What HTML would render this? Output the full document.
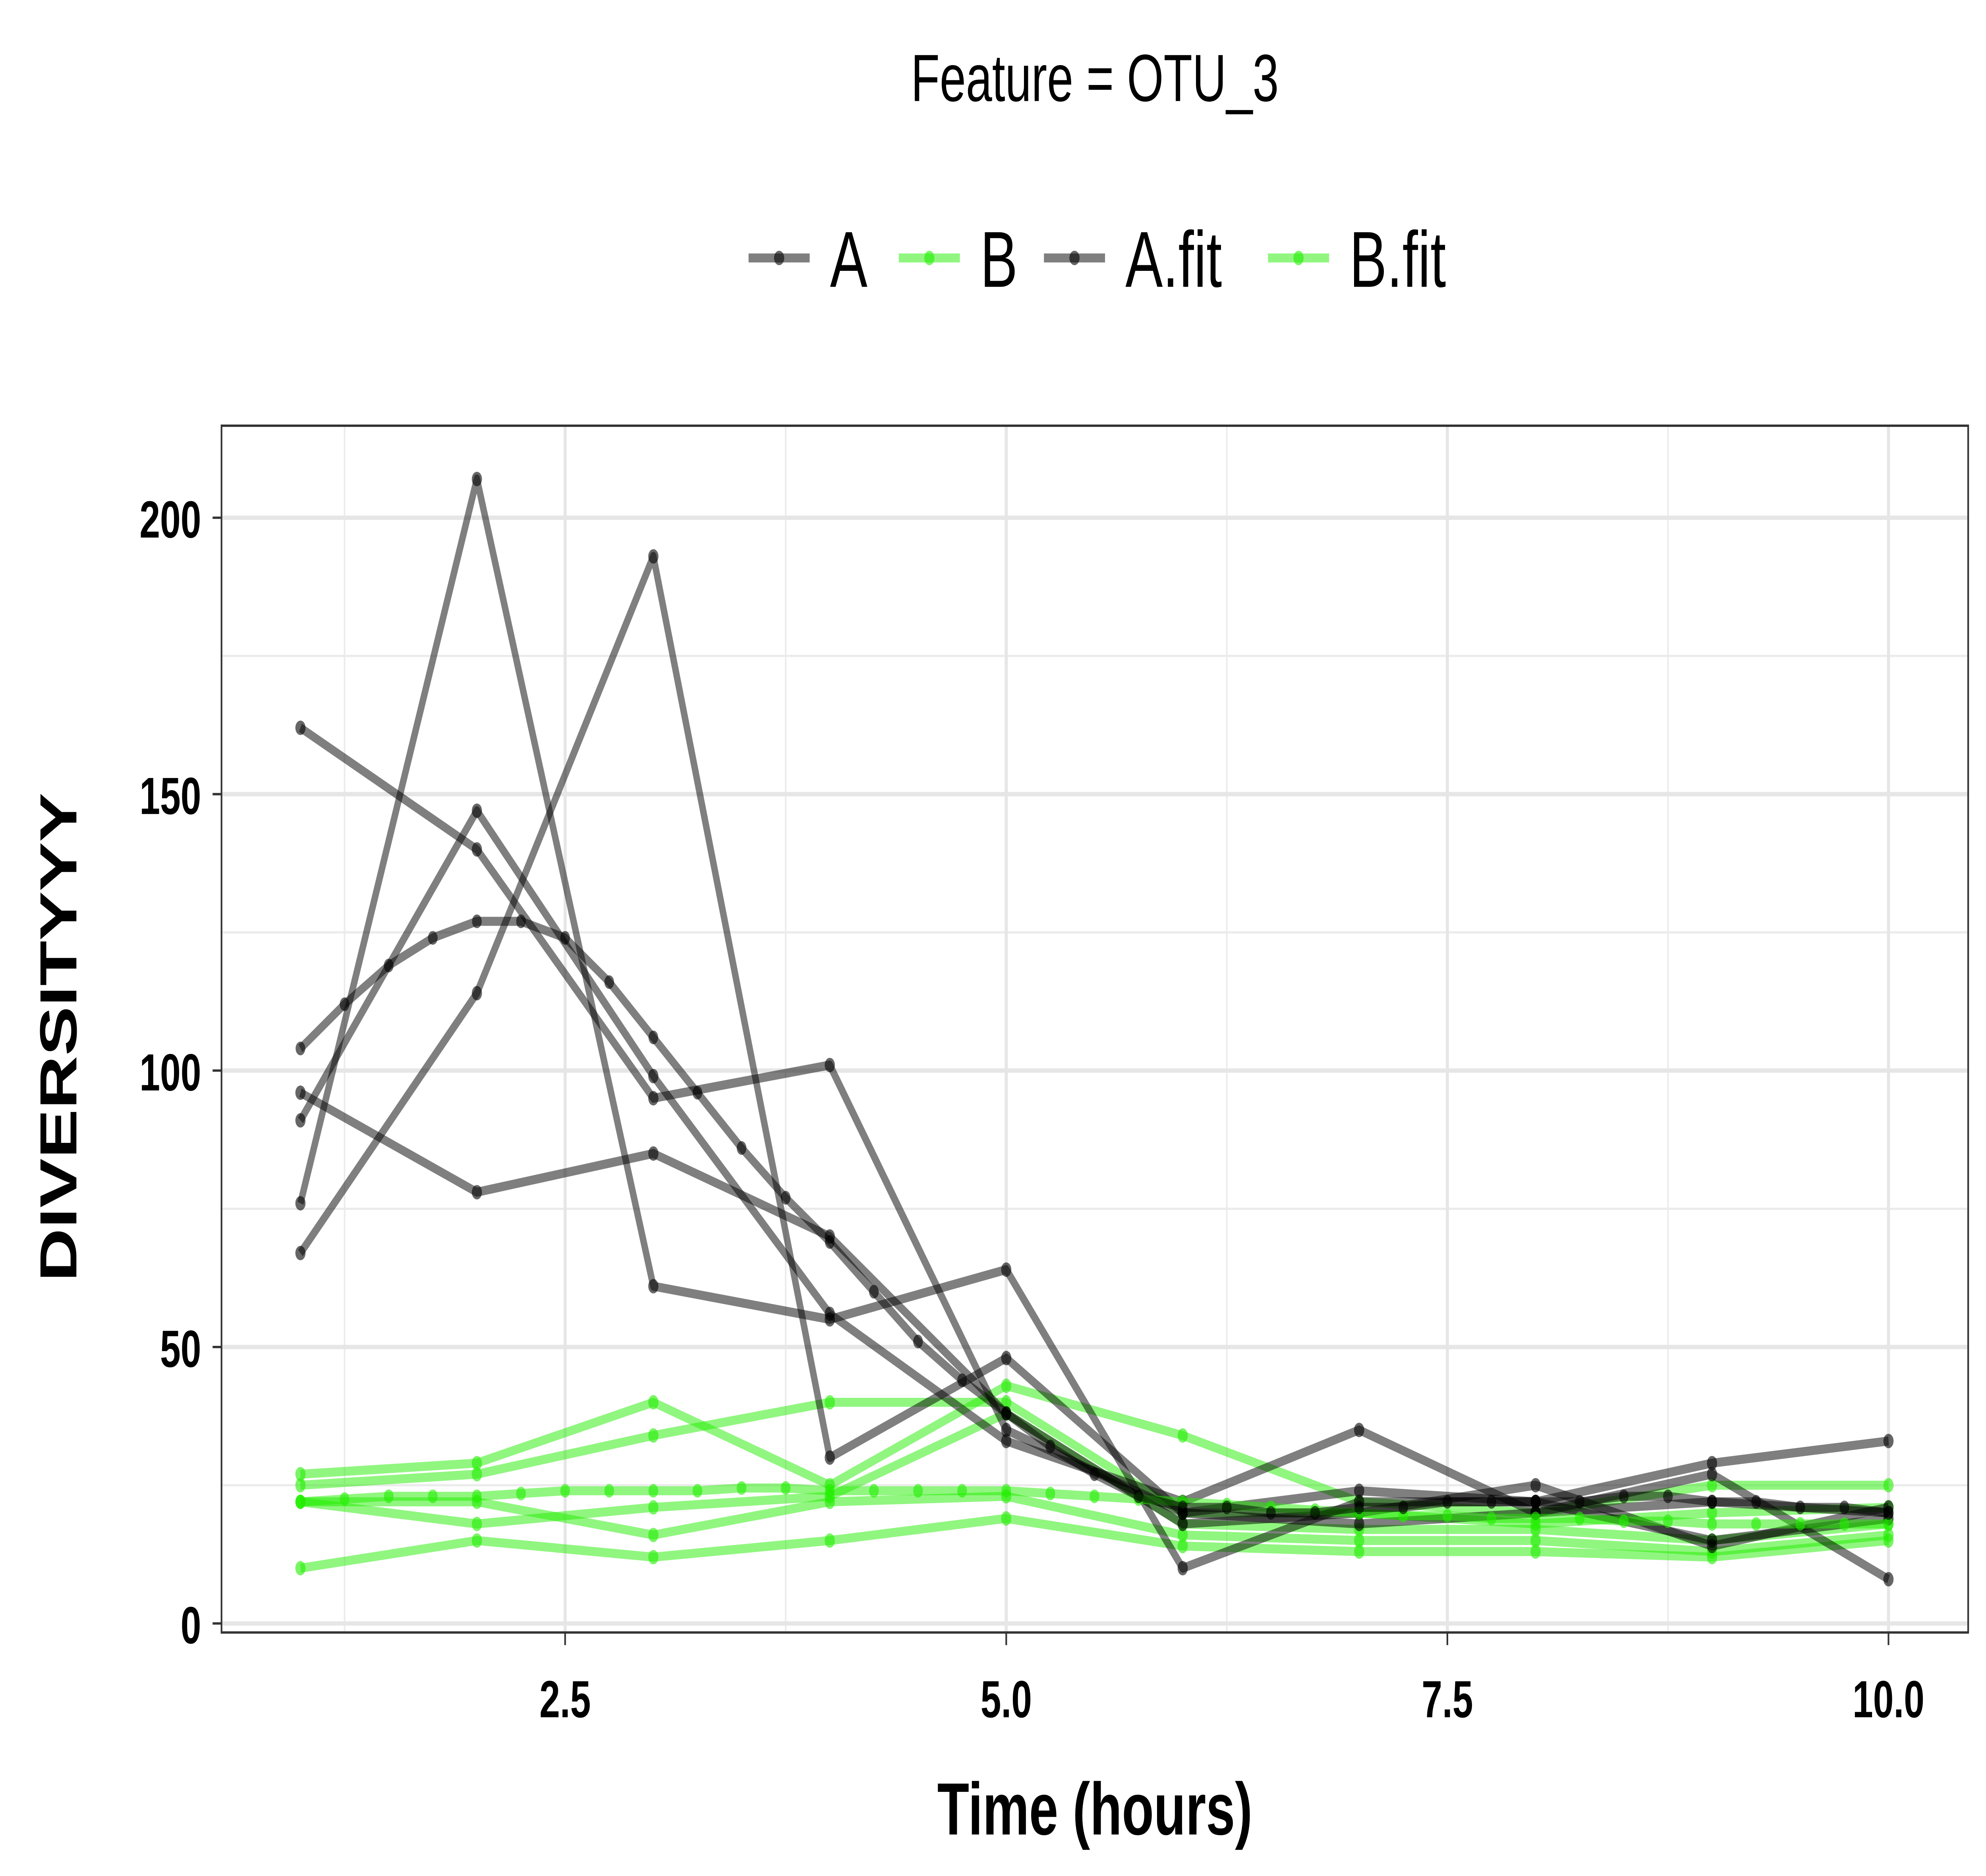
<!DOCTYPE html>
<html><head><meta charset="utf-8"><style>
html,body{margin:0;padding:0;background:#fff;overflow:hidden;width:100vw;height:100vh;}
svg{display:block;width:100vw;height:100vh;}
text{font-family:"Liberation Sans",Arial,sans-serif;}
</style></head><body>
<svg id="chart" viewBox="0 0 1560 1040" preserveAspectRatio="none" xmlns="http://www.w3.org/2000/svg">
<rect x="0" y="0" width="1560" height="1040" fill="#fff"/>
<text x="860" y="56" font-size="37" text-anchor="middle">Feature = OTU_3</text>
<g id="legend"></g>
<g id="grid"></g>
<g id="series"></g>
<rect x="174" y="236" width="1372" height="669" fill="none" stroke="#333" stroke-width="1.3"/>
<g id="axes"></g>
<text x="860" y="1017" font-size="41" font-weight="bold" text-anchor="middle">Time (hours)</text>
<text transform="translate(60,575) rotate(-90)" font-size="41" font-weight="bold" text-anchor="middle">DIVERSITYYY</text>
</svg>
<script>
const times = [1,2,3,4,5,6,7,8,9,10];
const seriesA1 = [162,140,95,101,35,20,24,22,29,33];
const seriesA2 = [96,78,85,70,38,18,20,25,14,21];
const seriesA3 = [91,147,99,56,33,22,35,20,27,8];
const seriesA4 = [76,207,61,55,64,10,22,22,15,19];
const seriesA5 = [67,114,193,30,48,20,18,20,22,20];
const seriesB1 = [27,29,40,25,43,34,22,20,25,25];
const seriesB2 = [25,27,34,40,40,20,20,18,20,21];
const seriesB3 = [22,18,21,23,38,18,17,17,15,18];
const seriesB4 = [22,22,16,22,23,16,15,15,13,16];
const seriesB5 = [10,15,12,15,19,14,13,13,12,15];
const fitTimes = [1,1.25,1.5,1.75,2,2.25,2.5,2.75,3,3.25,3.5,3.75,4,4.25,4.5,4.75,5,5.25,5.5,5.75,6,6.25,6.5,6.75,7,7.25,7.5,7.75,8,8.25,8.5,8.75,9,9.25,9.5,9.75,10];
const fitA = [104,112,119,124,127,127,124,116,106,96,86,77,69,60,51,44,38,32,27,23,21,21,20,20,21,21,22,22,22,22,23,23,22,22,21,21,20];
const fitB = [22,22.5,23,23,23,23.5,24,24,24,24,24.5,24.5,24,24,24,24,24,23.5,23,22.5,22,21.5,21,20.5,20,19.5,19.5,19,19,19,18.5,18.5,18,18,18,18,18];
const xTicks = [2.5,5.0,7.5,10.0];
const xTickLabels = ["2.5","5.0","7.5","10.0"];
const yTicks = [0,50,100,150,200];
const yTickLabels = ["0","50","100","150","200"];

const NS="http://www.w3.org/2000/svg";
const X = v => 236 + (v-1)*138.6;
const Y = v => 900 - v*3.065;
function mk(tag, attrs, parent){const e=document.createElementNS(NS,tag);for(const k in attrs)e.setAttribute(k,attrs[k]);parent.appendChild(e);return e;}

const grid=document.getElementById('grid');
const minorX=[1.25,3.75,6.25,8.75], minorY=[25,75,125,175];
minorX.forEach(v=>{const l=mk('line',{x1:X(v),x2:X(v),y1:236,y2:905,stroke:'#ebebeb','stroke-width':1.2},grid);

});
minorY.forEach(v=>{const l=mk('line',{x1:174,x2:1546,y1:Y(v),y2:Y(v),stroke:'#ebebeb','stroke-width':1.2},grid);

});
xTicks.forEach(v=>{const l=mk('line',{x1:X(v),x2:X(v),y1:236,y2:905,stroke:'#e6e6e6','stroke-width':2.4},grid);

});
yTicks.forEach(v=>{const l=mk('line',{x1:174,x2:1546,y1:Y(v),y2:Y(v),stroke:'#e6e6e6','stroke-width':2.4},grid);

});

const axes=document.getElementById('axes');
xTicks.forEach((v,i)=>{
 const t=mk('line',{x1:X(v),x2:X(v),y1:905,y2:912,stroke:'#333','stroke-width':1.3},axes);
 
 
 const tx=mk('text',{x:X(v),y:952,'font-size':29,'font-weight':'bold','text-anchor':'middle'},axes);
 tx.textContent=xTickLabels[i];
 
 
});
yTicks.forEach((v,i)=>{
 const t=mk('line',{x1:167,x2:174,y1:Y(v),y2:Y(v),stroke:'#333','stroke-width':1.3},axes);
 
 
 const tx=mk('text',{x:158,y:Y(v)+11,'font-size':29,'font-weight':'bold','text-anchor':'end'},axes);
 tx.textContent=yTickLabels[i];
 
 
});

const ser=document.getElementById('series');
function drawLine(xs, ys, color, name, r){
 const g=mk('g',{},ser);
 
 
 const pts=xs.map((x,i)=>X(x)+','+Y(ys[i])).join(' ');
 mk('polyline',{points:pts,fill:'none',stroke:color,'stroke-opacity':0.5,'stroke-width':5,'stroke-linejoin':'round'},g);
 xs.forEach((x,i)=>{const c=mk('circle',{cx:X(x),cy:Y(ys[i]),r:r,fill:color,'fill-opacity':0.6},g);
  
  });
}
const green='#22ee00';
[seriesB1,seriesB2,seriesB3,seriesB4,seriesB5].forEach((s,i)=>drawLine(times,s,green,'b-line-'+(i+1),4));
[seriesA1,seriesA2,seriesA3,seriesA4,seriesA5].forEach((s,i)=>drawLine(times,s,'#000','a-line-'+(i+1),4));
drawLine(fitTimes,fitB,green,'b-fit-line',3.8);
drawLine(fitTimes,fitA,'#000','a-fit-line',3.8);

const leg=document.getElementById('legend');
const items=[['A','#000',588,652],['B',green,706,770],['A.fit','#000',820,884],['B.fit',green,996,1060]];
items.forEach(it=>{
 const g=mk('g',{},leg);
 
 
 mk('line',{x1:it[2],x2:it[2]+48,y1:143,y2:143,stroke:it[1],'stroke-opacity':0.5,'stroke-width':5},g);
 mk('circle',{cx:it[2]+24,cy:143,r:4,fill:it[1],'fill-opacity':0.6},g);
 const t=mk('text',{x:it[3],y:159,'font-size':44},g);
 t.textContent=it[0];
});
</script>
</body></html>
